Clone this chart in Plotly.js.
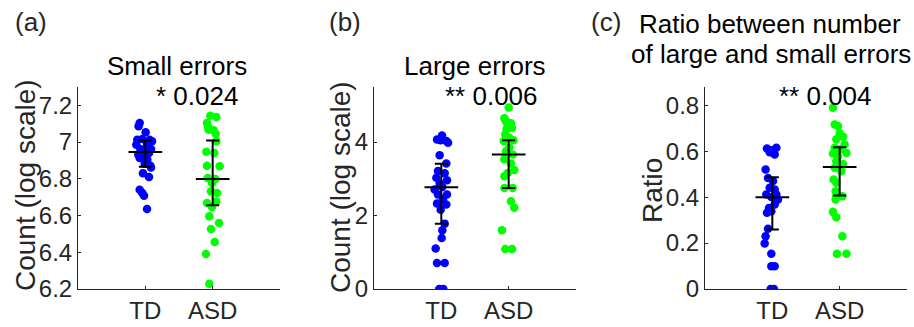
<!DOCTYPE html>
<html>
<head>
<meta charset="utf-8">
<script src="https://cdn.plot.ly/plotly-3.0.1.min.js"></script>
<style>html,body{margin:0;padding:0;background:#fff;}#chart{width:914px;height:327px;}</style>
</head>
<body>
<div id="chart"></div>
<script>
// ---------- data ----------
const categories = ["TD", "ASD"];

// (a) Small errors, count (log scale)
const smallTD = [7.104, 7.086, 7.053, 7.013, 7.017, 7.013, 7.004, 6.986, 6.991, 6.962, 6.959, 6.962, 6.931, 6.931, 6.940, 6.913, 6.904, 6.882, 6.871, 6.862, 6.831, 6.810, 6.741, 6.723, 6.708, 6.636];
const smallTDJitter = [-0.084, -0.10, 0.005, -0.12, -0.045, 0.064, 0.10, -0.134, 0.025, -0.074, -0.005, 0.084, -0.104, -0.035, 0.054, -0.084, 0.03, -0.01, 0.074, 0.084, -0.035, 0.054, -0.084, -0.045, -0.02, 0.025];
const smallASD = [7.144, 7.137, 7.104, 7.082, 7.067, 7.064, 7.046, 6.948, 7.004, 6.940, 6.871, 6.868, 6.804, 6.799, 6.777, 6.732, 6.723, 6.677, 6.668, 6.646, 6.596, 6.559, 6.527, 6.456, 6.391, 6.229];
const smallASDJitter = [-0.035, 0.054, -0.084, -0.069, -0.06, 0.015, 0.045, -0.094, 0.054, 0.025, -0.084, 0.104, -0.074, 0.04, -0.01, -0.025, 0.064, 0.054, -0.084, -0.01, -0.05, 0.094, -0.025, 0.03, -0.1, -0.05];
const smallCenter = [6.946, 6.799];
const smallUpper = [7.009, 7.008];
const smallLower = [6.866, 6.656];
const smallP = "* 0.024";

// (b) Large errors, count (log scale)
const largeTD = [4.18, 4.07, 4.05, 4.03, 3.98, 3.64, 3.42, 3.21, 3.15, 3.03, 2.96, 2.87, 2.78, 2.71, 2.57, 2.57, 2.45, 2.33, 2.30, 2.16, 1.78, 1.60, 1.39, 1.10, 0.71, 0.71, 0.0, 0.0];
const largeTDJitter = [0.01, -0.064, -0.01, 0.074, 0.10, -0.025, 0.074, -0.05, 0.05, -0.074, 0.084, -0.025, 0.015, -0.10, -0.05, 0.084, 0.025, -0.064, 0.074, -0.01, 0.05, 0.015, 0.005, -0.084, -0.064, 0.05, -0.03, 0.03];
const largeASD = [4.94, 4.65, 4.57, 4.51, 4.44, 4.39, 4.35, 4.21, 4.12, 4.05, 4.03, 3.85, 3.75, 3.66, 3.53, 3.42, 3.24, 3.16, 3.07, 2.75, 2.75, 2.39, 2.21, 1.60, 1.09, 1.09];
const largeASDJitter = [0.0, -0.064, -0.04, 0.035, -0.015, 0.05, -0.03, -0.05, 0.01, 0.07, -0.074, 0.01, -0.04, 0.06, -0.064, 0.035, 0.084, -0.015, -0.064, -0.064, 0.06, 0.035, 0.084, -0.10, -0.05, 0.05];
const largeCenter = [2.77, 3.66];
const largeUpper = [3.41, 4.05];
const largeLower = [1.78, 2.75];
const largeP = "** 0.006";

// (c) Ratio between number of large and small errors
const ratioTD = [0.612, 0.605, 0.615, 0.596, 0.586, 0.521, 0.484, 0.470, 0.441, 0.433, 0.412, 0.412, 0.401, 0.390, 0.368, 0.353, 0.332, 0.339, 0.262, 0.230, 0.198, 0.154, 0.099, 0.099, 0.0, 0.0];
const ratioTDJitter = [-0.08, -0.015, 0.06, -0.04, 0.035, -0.10, -0.064, 0.01, -0.04, 0.035, -0.09, 0.06, -0.015, 0.084, 0.035, -0.05, -0.08, -0.015, -0.064, -0.10, -0.114, -0.015, -0.015, 0.035, -0.025, 0.025];
const ratioASD = [0.790, 0.717, 0.710, 0.678, 0.663, 0.652, 0.630, 0.615, 0.608, 0.590, 0.593, 0.576, 0.557, 0.543, 0.528, 0.513, 0.477, 0.463, 0.426, 0.404, 0.404, 0.390, 0.336, 0.313, 0.230, 0.154, 0.154];
const ratioASDJitter = [-0.10, -0.074, -0.025, 0.0, 0.05, -0.05, 0.074, -0.074, 0.0, -0.10, 0.10, -0.025, -0.05, 0.05, -0.074, 0.025, -0.09, -0.05, -0.06, -0.05, 0.04, -0.06, -0.10, -0.05, 0.04, -0.04, 0.10];
const ratioCenter = [0.400, 0.531];
const ratioUpper = [0.487, 0.618];
const ratioLower = [0.259, 0.407];
const ratioP = "** 0.004";

// ---------- styling ----------
const W = 914, H = 327;
const FONT = "Liberation Sans, Arial, Helvetica, sans-serif";
const AXC = "#262626";
const BLUE = "#0000ff", GREEN = "#00ff00";

function px(x) { return x / W; }
function py(y) { return 1 - y / H; }

const traces = [];
function addPanel(idx, td, tdJ, asd, asdJ, center, upper, lower) {
  const xa = idx === 1 ? "x" : "x" + idx;
  const ya = idx === 1 ? "y" : "y" + idx;
  traces.push({
    type: "scatter", mode: "markers", xaxis: xa, yaxis: ya,
    x: td.map((v, i) => 1 + tdJ[i]), y: td,
    marker: { color: BLUE, size: 8.5, line: { width: 0 } }, hoverinfo: "skip"
  });
  traces.push({
    type: "scatter", mode: "markers", xaxis: xa, yaxis: ya,
    x: asd.map((v, i) => 2 + asdJ[i]), y: asd,
    marker: { color: GREEN, size: 8.5, line: { width: 0 } }, hoverinfo: "skip"
  });
  traces.push({
    type: "scatter", mode: "markers", xaxis: xa, yaxis: ya,
    x: [1, 2], y: center,
    marker: { size: 1, opacity: 0 },
    error_y: {
      type: "data", symmetric: false,
      array: upper.map((u, i) => u - center[i]),
      arrayminus: lower.map((l, i) => center[i] - l),
      color: "#000", thickness: 2, width: 6.5
    },
    error_x: { type: "constant", value: 0.25, color: "#000", thickness: 2, width: 0 },
    hoverinfo: "skip"
  });
}
addPanel(1, smallTD, smallTDJitter, smallASD, smallASDJitter, smallCenter, smallUpper, smallLower);
addPanel(2, largeTD, largeTDJitter, largeASD, largeASDJitter, largeCenter, largeUpper, largeLower);
addPanel(3, ratioTD, ratioTDJitter, ratioASD, ratioASDJitter, ratioCenter, ratioUpper, ratioLower);

const yDom = [py(289), py(87)];
function xAxis(l, r, anchor) {
  return {
    domain: [px(l), px(r)], anchor: anchor, range: [0, 3],
    tickvals: [1, 2], ticktext: categories,
    showline: true, linecolor: AXC, linewidth: 1, mirror: false,
    ticks: "inside", ticklen: 3, tickcolor: AXC,
    showgrid: false, zeroline: false,
    tickfont: { family: FONT, size: 24, color: AXC }, fixedrange: true
  };
}
function yAxis(anchor, range, dtick) {
  return {
    domain: yDom, anchor: anchor, range: range, dtick: dtick, tick0: 0,
    showline: true, linecolor: AXC, linewidth: 1, mirror: false,
    ticks: "inside", ticklen: 3, tickcolor: AXC,
    showgrid: false, zeroline: false,
    tickfont: { family: FONT, size: 24, color: AXC }, fixedrange: true
  };
}

function ann(text, x, y, size, opts) {
  return Object.assign({
    text: text, xref: "paper", yref: "paper", x: px(x), y: py(y),
    xanchor: "center", yanchor: "middle", showarrow: false,
    font: { family: FONT, size: size, color: "#000" }
  }, opts || {});
}

const annotations = [
  ann("(a)", 13, 22, 26, { xanchor: "left", font: { family: FONT, size: 26, color: AXC } }),
  ann("(b)", 327, 22, 26, { xanchor: "left", font: { family: FONT, size: 26, color: AXC } }),
  ann("(c)", 589, 22, 26, { xanchor: "left", font: { family: FONT, size: 26, color: AXC } }),
  ann("Small errors", 177, 66, 26),
  ann("Large errors", 475, 66, 26),
  ann("Ratio between number", 770, 24, 26),
  ann("of large and small errors", 771, 54, 26),
  ann(smallP, 196.5, 96, 26),
  ann(largeP, 491, 96, 26),
  ann(ratioP, 825, 96, 26),
  ann("Count (log scale)", 25, 185, 28, { textangle: -90, font: { family: FONT, size: 28, color: AXC } }),
  ann("Count (log scale)", 340, 187, 28, { textangle: -90, font: { family: FONT, size: 28, color: AXC } }),
  ann("Ratio", 652, 191, 28, { textangle: -90, font: { family: FONT, size: 28, color: AXC } })
];

const layout = {
  width: W, height: H,
  margin: { l: 0, r: 0, t: 0, b: 0, pad: 0 },
  paper_bgcolor: "#fff", plot_bgcolor: "rgba(0,0,0,0)",
  showlegend: false,
  font: { family: FONT, color: AXC },
  xaxis: xAxis(78, 280, "y"),
  yaxis: yAxis("x", [6.2, 7.3], 0.2),
  xaxis2: xAxis(374, 576, "y2"),
  yaxis2: yAxis("x2", [0, 5.5], 2),
  xaxis3: xAxis(705, 907, "y3"),
  yaxis3: yAxis("x3", [0, 0.88], 0.2),
  annotations: annotations
};

Plotly.newPlot("chart", traces, layout, { staticPlot: true, displayModeBar: false });
</script>
</body>
</html>
